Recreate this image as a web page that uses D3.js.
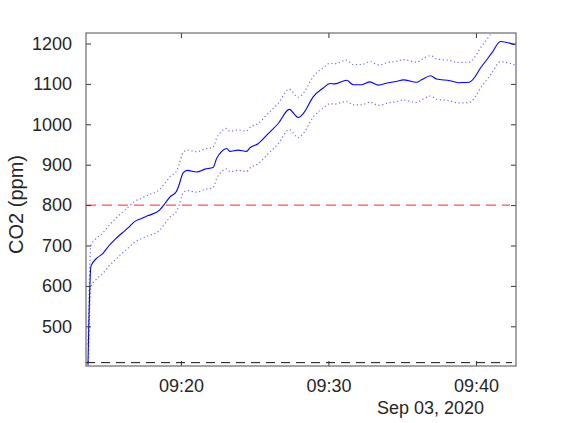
<!DOCTYPE html>
<html>
<head>
<meta charset="utf-8">
<script src="https://cdn.jsdelivr.net/npm/d3@7"></script>
<style>
  html, body { margin: 0; padding: 0; background: #fff; }
  svg { display: block; }
  text { font-family: "Liberation Sans", Arial, Helvetica, sans-serif; fill: #262626; }
</style>
</head>
<body>
<svg id="chart" width="573" height="423"></svg>
<script>
// ---- data ----
const times = ["09:13:42","09:13:54","09:14:17","09:14:42","09:15:08","09:15:32","09:16:01","09:16:26","09:16:49","09:17:20",
  "09:17:47","09:18:32","09:18:55","09:19:15","09:19:42","09:19:52","09:20:09","09:20:26","09:21:04","09:21:38",
  "09:22:11","09:22:25","09:22:46","09:23:06","09:23:19","09:23:53","09:24:27","09:24:41","09:25:14","09:25:55",
  "09:26:36","09:27:21","09:27:57","09:28:18","09:28:58","09:29:39","09:30:06","09:30:26","09:31:14","09:31:41",
  "09:32:15","09:32:49","09:33:23","09:34:03","09:34:44","09:35:04","09:35:59","09:36:19","09:36:56","09:37:20",
  "09:38:14","09:38:48","09:39:33","09:40:23","09:41:04","09:41:40","09:42:38"];
const co2 = [405,649,668,680,700,715,731,744,758,767,
  774,787,804,820,834,849,880,886,882,889,
  893,915,933,940,933,936,933,942,952,977,
  1002,1037,1017,1027,1068,1090,1101,1100,1109,1098,
  1098,1105,1097,1103,1107,1110,1104,1110,1120,1112,
  1108,1103,1104,1143,1176,1205,1197];
const co2Upper = [455,700,718,731,750,765,782,795,808,817,
  825,838,854,870,884,899,930,936,932,939,
  943,965,983,990,983,986,983,992,1002,1027,
  1052,1087,1067,1077,1118,1140,1151,1150,1159,1148,
  1148,1155,1147,1153,1157,1160,1154,1160,1170,1162,
  1158,1153,1154,1193,1226,1255,1247];
const co2Lower = [355,597,617,630,650,664,681,694,707,717,
  724,737,754,770,784,799,830,836,832,839,
  843,865,883,890,883,886,883,892,902,927,
  952,987,967,977,1018,1040,1051,1050,1057,1048,
  1048,1055,1047,1053,1057,1060,1054,1060,1070,1062,
  1058,1053,1054,1093,1126,1155,1147];
const limitValue = 800;       // red dashed threshold
const baselineValue = 410;    // black dashed outdoor baseline
const xLimits = ["09:13:34", "09:42:43"];
const yLimits = [401.7, 1226];
const xTickLabels = ["09:20", "09:30", "09:40"];
const yTickValues = [500, 600, 700, 800, 900, 1000, 1100, 1200];
const dateLabel = "Sep 03, 2020";
const yLabel = "CO2 (ppm)";

// ---- drawing ----
const parse = d3.timeParse("%Y-%m-%d %H:%M:%S");
const t = s => parse("2020-09-03 " + (s.length === 5 ? s + ":00" : s));
const svg = d3.select("#chart");
const L = 86, R = 516, T = 33, B = 366;

const x = d3.scaleTime().domain(xLimits.map(t)).range([L, R]);
const y = d3.scaleLinear().domain(yLimits).range([B, T]);

const data = times.map((s, i) => ({ t: t(s), v: co2[i], u: co2Upper[i], l: co2Lower[i] }));

svg.append("defs").append("clipPath").attr("id", "clip")
  .append("rect").attr("x", L).attr("y", T).attr("width", R - L).attr("height", B - T);

const g = svg.append("g").attr("clip-path", "url(#clip)");
const curve = d3.curveMonotoneX;
const mk = key => d3.line().x(d => x(d.t)).y(d => y(d[key])).curve(curve);

g.append("path").datum(data).attr("d", mk("u"))
  .attr("fill", "none").attr("stroke", "#3a3aff").attr("stroke-opacity", 0.75)
  .attr("stroke-width", 1.2).attr("stroke-dasharray", "1.2,2.6");
g.append("path").datum(data).attr("d", mk("l"))
  .attr("fill", "none").attr("stroke", "#3a3aff").attr("stroke-opacity", 0.75)
  .attr("stroke-width", 1.2).attr("stroke-dasharray", "1.2,2.6");
g.append("path").datum(data).attr("d", mk("v"))
  .attr("fill", "none").attr("stroke", "#0000ff").attr("stroke-width", 1.1);

// reference lines
g.append("line").attr("x1", L).attr("x2", R - 6)
  .attr("y1", y(limitValue)).attr("y2", y(limitValue))
  .attr("stroke", "#ff5555").attr("stroke-width", 1.4).attr("stroke-dasharray", "10,6");
g.append("line").attr("x1", L).attr("x2", R - 4)
  .attr("y1", y(baselineValue)).attr("y2", y(baselineValue))
  .attr("stroke", "#111").attr("stroke-width", 1).attr("stroke-dasharray", "9,6");

// axes
const xTicks = xTickLabels.map(t);
const axisColor = "#6a6a6a";
const fmt = d3.timeFormat("%H:%M");

const xAxisB = d3.axisBottom(x).tickValues(xTicks).tickFormat(fmt).tickSizeInner(-5).tickSizeOuter(0).tickPadding(13);
const xAxisT = d3.axisTop(x).tickValues(xTicks).tickFormat("").tickSizeInner(-5).tickSizeOuter(0);
const yAxisL = d3.axisLeft(y).tickValues(yTickValues).tickFormat(d3.format("d")).tickSizeInner(-5).tickSizeOuter(0).tickPadding(14);
const yAxisR = d3.axisRight(y).tickValues(yTickValues).tickFormat("").tickSizeInner(-5).tickSizeOuter(0);

function style(sel) {
  sel.select(".domain").remove();
  sel.selectAll(".tick line").attr("stroke", "#333").attr("stroke-width", 1);
  sel.selectAll(".tick text").attr("fill", "#262626")
    .style("font-family", '"Liberation Sans", Arial, sans-serif').style("font-size", "18px");
}
svg.append("g").attr("transform", `translate(0,${B})`).call(xAxisB).call(style);
svg.append("g").attr("transform", `translate(0,${T})`).call(xAxisT).call(style);
svg.append("g").attr("transform", `translate(${L},0)`).call(yAxisL).call(style);
svg.append("g").attr("transform", `translate(${R},0)`).call(yAxisR).call(style);

// box
svg.append("rect").attr("x", L).attr("y", T).attr("width", R - L).attr("height", B - T)
  .attr("fill", "none").attr("stroke", axisColor).attr("stroke-width", 1.2);

// date label
svg.append("text").attr("x", 484).attr("y", 414).attr("text-anchor", "end")
  .style("font-size", "18px").text(dateLabel);

// y label
svg.append("text").attr("transform", "translate(23,204.5) rotate(-90)")
  .attr("text-anchor", "middle").style("font-size", "20px").text(yLabel);
</script>
</body>
</html>
